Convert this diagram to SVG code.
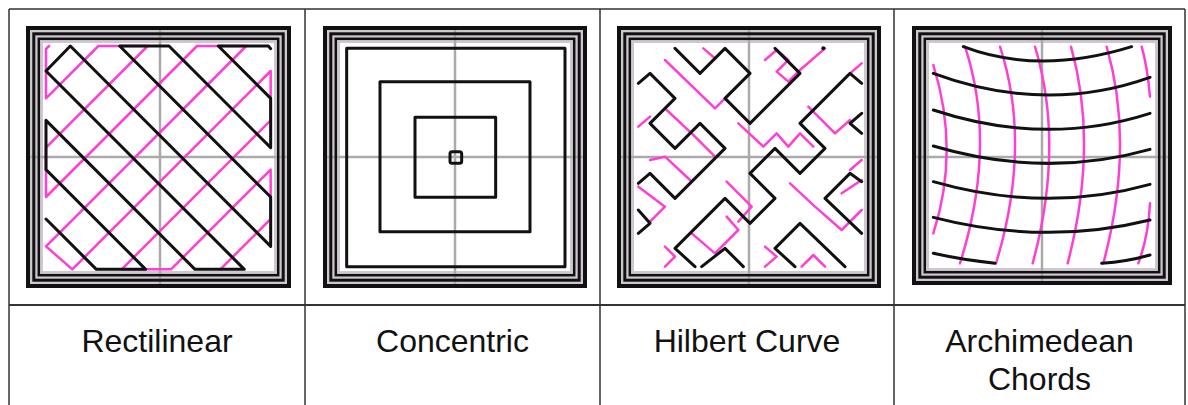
<svg xmlns="http://www.w3.org/2000/svg" width="1188" height="405" viewBox="0 0 1188 405">
<style>
.tbl{fill:none;stroke:#333;stroke-width:1.5}
.band{fill:#cfc7cf}
.inner{fill:#fff}
.p1{fill:none;stroke:#111;stroke-width:4}
.p2{fill:none;stroke:#111;stroke-width:3}
.p3{fill:none;stroke:#111;stroke-width:2.5}
.cross{stroke:#aaa;stroke-width:2.5}
.blk{fill:none;stroke:#111;stroke-width:3;stroke-linejoin:round;stroke-linecap:round;vector-effect:non-scaling-stroke}
.pnk{fill:none;stroke:#ff3fd2;stroke-width:2.5;stroke-linejoin:round;stroke-linecap:round;vector-effect:non-scaling-stroke}
.lbl{font-family:"Liberation Sans",Arial,sans-serif;font-size:32px;fill:#111;text-anchor:middle}
</style>
<rect width="1188" height="405" fill="#fff"/>
<g id="table">
<path class="tbl" d="M9,9H1185M9,9V405M1185,9V405M305,9V405M600,9V405M894,9V405"/>
<path class="tbl" style="stroke-width:2" d="M9,305H1185"/>
</g>
<g id="rectilinear">
<rect class="band" x="26" y="26" width="265" height="262"/>
<rect class="inner" x="43" y="43" width="231" height="228"/>
<path class="cross" d="M160,26V288M26,157H291"/>
<rect class="p1" x="28" y="28" width="261" height="258"/>
<rect class="p2" x="33.8" y="33.8" width="249.4" height="246.4"/>
<rect class="p3" x="38.8" y="38.8" width="239.4" height="236.4"/>
<g transform="scale(0.33333)">
<path class="pnk" d="M147,138L138,147L138,295L295,138L443,138L138,443L138,591L591,138L739,138L138,739L217,808L812,213L812,361L365,808L513,808L812,509L812,657L661,808"/>
<path class="blk" d="M138,657L289,808L437,808L138,509L138,361L585,808L733,808L138,213L211,138L812,739L812,591L359,138L507,138L812,443L812,295L655,138L805,138L812,146"/>
</g>
<text class="lbl" x="157" y="352">Rectilinear</text>
</g>
<g id="concentric">
<rect class="band" x="323" y="26" width="264" height="262"/>
<rect class="inner" x="340" y="43" width="230" height="228"/>
<path class="cross" d="M455,26V288M323,157H587"/>
<rect class="p1" x="325" y="28" width="260" height="258"/>
<rect class="p2" x="330.8" y="33.8" width="248.4" height="246.4"/>
<rect class="p3" x="335.8" y="38.8" width="238.4" height="236.4"/>
<g transform="translate(300,0) scale(0.33333)">
<rect class="blk" x="140" y="145" width="655" height="655"/>
<rect class="blk" x="240" y="245" width="450" height="450"/>
<rect class="blk" x="345" y="352" width="242" height="240"/>
<rect class="blk" x="450" y="455" width="35" height="35" rx="6"/>
</g>
<text class="lbl" x="452.5" y="352">Concentric</text>
</g>
<g id="hilbert">
<rect class="band" x="617" y="26" width="264" height="262"/>
<rect class="inner" x="634" y="43" width="230" height="228"/>
<path class="cross" d="M749,26V288M617,157H881"/>
<rect class="p1" x="619" y="28" width="260" height="258"/>
<rect class="p2" x="624.8" y="33.8" width="248.4" height="246.4"/>
<rect class="p3" x="629.8" y="38.8" width="238.4" height="236.4"/>
<g transform="translate(595,0) scale(0.33333)">
<path class="pnk" d="M210,180L360,325L440,245M325,145L360,175M510,180L545,150L580,180L545,215L580,245L615,210L690,145M130,380L165,350M215,330L290,400L360,470M640,320L720,400L765,360M800,190L765,220M430,370L505,440L545,400L580,440L615,400L655,440M165,480L210,470L285,540M130,560L210,620L165,665M395,545L470,620L430,665M210,740L240,770L210,800M290,700L360,760L430,690L395,650M510,740L545,770L510,800M620,800L655,765L690,800M585,550L660,620L740,690L800,630M740,580L800,540M800,480L765,510"/>
<path class="blk" d="M130,250L165,220L240,295L165,370L240,445L315,370L390,445L240,595L165,520L130,550M240,145L315,220L390,145L465,220L390,295L465,370L615,220L540,145M800,250L765,220L615,370L690,445L615,520L540,445L465,520L540,595L465,670L390,595L240,745L300,800M800,340L765,370L800,400M800,545L765,520L690,595L800,700M540,745L615,670L750,800M540,745L600,800M130,630L165,670L130,700M320,800L390,745L445,800"/>
<circle cx="685" cy="145" r="6" fill="#111"/>
</g>
<text class="lbl" x="747" y="352">Hilbert Curve</text>
</g>
<g id="archimedean">
<rect class="band" x="912" y="26" width="260" height="259"/>
<rect class="inner" x="929" y="43" width="226" height="225"/>
<path class="cross" d="M1042,26V285M912,157H1172"/>
<rect class="p1" x="914" y="28" width="256" height="255"/>
<rect class="p2" x="919.8" y="33.8" width="244.4" height="243.4"/>
<rect class="p3" x="924.8" y="38.8" width="234.4" height="233.4"/>
<g transform="translate(890,0) scale(0.33333)">
<path class="pnk" d="M130,195Q210,452 130,700M225,140Q322,435 210,790M330,140Q426,435 318,790M435,140Q524,435 428,790M543,140Q626,435 533,790M650,140Q735,435 640,790M755,140Q772,200 780,290M780,610Q775,710 745,790"/>
<path class="blk" d="M220,140Q447,226 725,140M130,220Q465,344 780,232M130,330Q465,441 780,340M130,438Q465,537 780,448M130,545Q465,641 780,553M130,652Q465,738 780,660M130,760Q220,780 315,790M635,790Q710,785 780,765"/>
</g>
<text class="lbl" x="1039.5" y="352">Archimedean</text>
<text class="lbl" x="1039.5" y="390">Chords</text>
</g>
</svg>
